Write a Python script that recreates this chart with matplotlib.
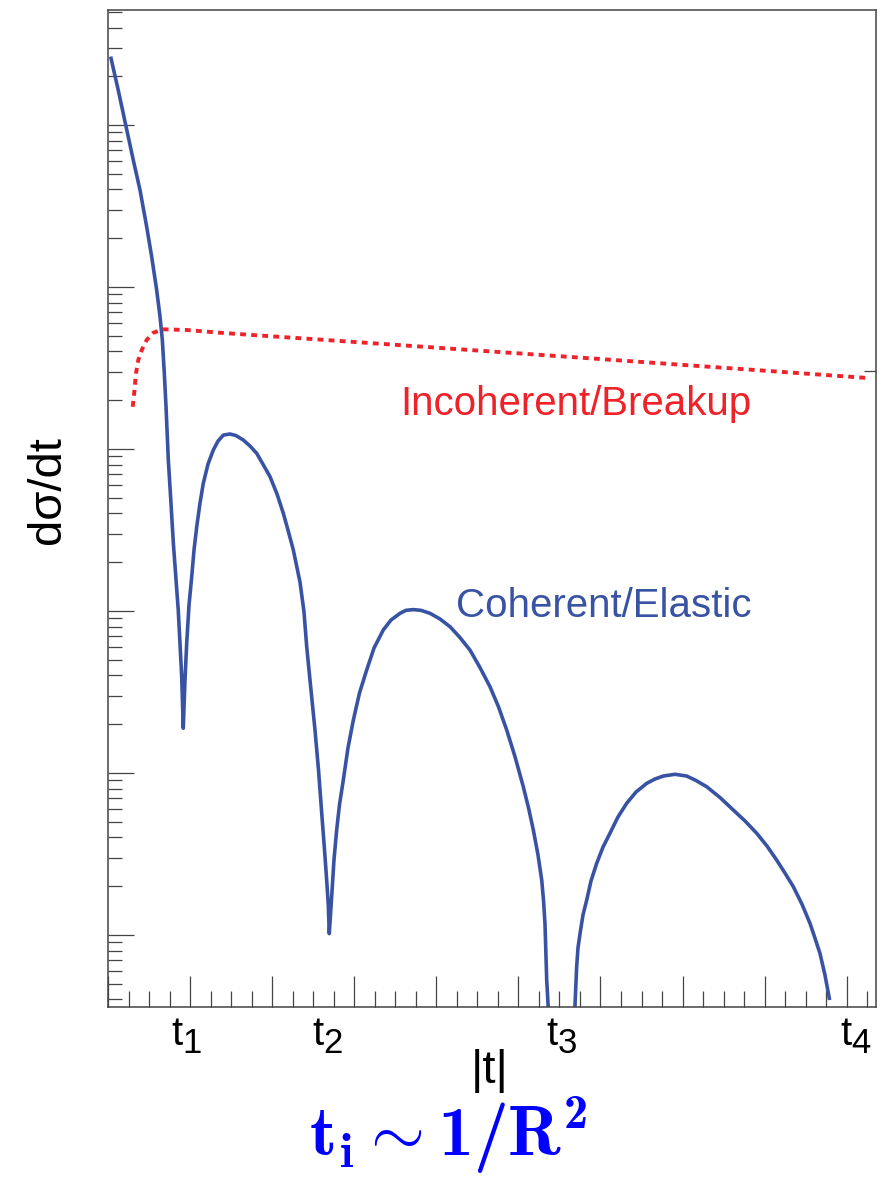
import matplotlib
matplotlib.use("Agg")
import matplotlib.pyplot as plt
from matplotlib.ticker import MultipleLocator, LogLocator, NullFormatter, NullLocator

# ---- data ----
coh_t = [0.037, 0.125, 0.216, 0.308, 0.390, 0.471, 0.532, 0.593, 0.634, 0.662,
         0.686, 0.707, 0.735, 0.765, 0.796, 0.856, 0.898, 0.917, 0.938, 0.959,
         0.987, 1.020, 1.048, 1.081, 1.121, 1.161, 1.218, 1.283, 1.340, 1.405,
         1.486, 1.559, 1.648, 1.730, 1.812, 1.888, 1.974, 2.059, 2.136, 2.193,
         2.258, 2.339, 2.388, 2.421, 2.461, 2.522, 2.565, 2.604, 2.638, 2.664,
         2.684, 2.696, 2.725, 2.753, 2.786, 2.820, 2.867, 2.924, 2.989, 3.064,
         3.152, 3.241, 3.354, 3.448, 3.558, 3.631, 3.720, 3.813, 3.923, 4.045,
         4.167, 4.288, 4.410, 4.532, 4.654, 4.758, 4.858, 4.959, 5.060, 5.124,
         5.182, 5.239, 5.284, 5.306, 5.324, 5.345, 5.364, 5.530, 5.689, 5.710,
         5.726, 5.751, 5.787, 5.832, 5.884, 5.954, 6.031, 6.116, 6.213, 6.319,
         6.433, 6.563, 6.664, 6.765, 6.908, 7.050, 7.164, 7.294, 7.456, 7.618,
         7.761, 7.903, 8.029, 8.147, 8.246, 8.349, 8.455, 8.553, 8.613, 8.674,
         8.735, 8.788]
coh_y = [2.58e5, 1.64e5, 1.00e5, 6.08e4, 3.97e4, 2.36e4, 1.54e4, 9.58e3, 6.56e3, 4.71e3,
         2.94e3, 1.82e3, 855, 484, 263, 101, 39.3, 18.9, 37.5, 63.4,
         109, 163, 238, 331, 464, 614, 806, 986, 1119, 1219,
         1238, 1211, 1137, 1044, 940, 806, 675, 528, 401, 316,
         238, 151, 98.6, 60.2, 37.5, 18.4, 10.4, 5.64, 3.35, 2.19,
         1.53, 1.02, 1.72, 2.90, 4.45, 6.35, 9.06, 14.3, 21.2, 31.2,
         43.3, 59.1, 76.4, 88.0, 96.8, 101, 102, 101, 96.8, 89.3,
         80.0, 68.6, 57.4, 44.8, 34.1, 25.6, 18.4, 12.6, 8.22, 6.08,
         4.45, 3.12, 2.19, 1.64, 1.18, 0.527, 0.354, 0.01, 0.361, 0.637,
         0.831, 1.02, 1.33, 1.64, 2.15, 2.77, 3.49, 4.25, 5.35, 6.50,
         7.63, 8.63, 9.18, 9.58, 9.82, 9.58, 8.99, 8.23, 7.06, 5.91,
         5.06, 4.25, 3.54, 2.90, 2.42, 1.99, 1.55, 1.18, 0.958, 0.771,
         0.567, 0.407]

inc_t = [0.301, 0.317, 0.341, 0.369, 0.411, 0.471, 0.552, 0.674, 0.959, 1.365,
         1.892, 2.543, 5.994, 9.259]
inc_y = [1824, 2154, 2932, 3543, 4083, 4710, 5222, 5482, 5430, 5222,
         5003, 4753, 3594, 2744]

t_label_pos = [0.96, 2.68, 5.53, 9.11]
t_label_sub = ["1", "2", "3", "4"]
right_tick = [3030]

BLUE = "#3953a4"
RED = "#ee2228"
AXC = "#444444"

plt.rcParams['font.family'] = ['Liberation Sans', 'DejaVu Sans']
plt.rcParams['mathtext.fontset'] = 'custom'
plt.rcParams['mathtext.rm'] = 'Liberation Sans'
plt.rcParams['mathtext.bf'] = 'cmb10'
plt.rcParams['mathtext.fallback'] = 'cm'

W, H = 889, 1178
PT = 0.72  # points per pixel at dpi 100
fig = plt.figure(figsize=(W / 100, H / 100), dpi=100)
L, R, T, B = 108, 876, 10, 1007
ax = fig.add_axes([L / W, 1 - B / H, (R - L) / W, (B - T) / H])

ax.plot(coh_t, coh_y, color=BLUE, lw=2.6, solid_joinstyle='round')
ax.plot(inc_t, inc_y, color=RED, lw=2.8, linestyle=(0, (1.5, 1.35)))

ax.set_yscale('log')
ax.set_xlim(0, 9.357)
ax.set_ylim(0.3594, 5.13e5)

ax.xaxis.set_major_locator(MultipleLocator(1))
ax.xaxis.set_minor_locator(MultipleLocator(0.25))
ax.yaxis.set_major_locator(LogLocator(base=10, numticks=20))
ax.yaxis.set_minor_locator(LogLocator(base=10, subs=range(2, 10), numticks=50))
for a in (ax.xaxis, ax.yaxis):
    a.set_major_formatter(NullFormatter())
    a.set_minor_formatter(NullFormatter())

ax.tick_params(axis='x', which='major', direction='in', length=22, width=0.9, color=AXC)
ax.tick_params(axis='x', which='minor', direction='in', length=11.3, width=0.9, color=AXC)
ax.tick_params(axis='y', which='major', direction='in', length=18.7, width=0.9, color=AXC)
ax.tick_params(axis='y', which='minor', direction='in', length=10, width=0.9, color=AXC)
ax.tick_params(top=False, right=False, which='both')
for s in ax.spines.values():
    s.set_color(AXC)
    s.set_linewidth(1.1)

# single tick on right axis
ax2 = ax.twinx()
ax2.set_yscale('log')
ax2.set_ylim(ax.get_ylim())
ax2.set_yticks(right_tick)
ax2.yaxis.set_minor_locator(NullLocator())
ax2.yaxis.set_major_formatter(NullFormatter())
ax2.tick_params(axis='y', direction='in', length=8.6, width=0.9, color=AXC)
for s in ax2.spines.values():
    s.set_visible(False)

# t_i labels: "t" plus a lowered index
xt = ax.get_xaxis_transform()
for xp, sub in zip(t_label_pos, t_label_sub):
    ax.annotate("t", xy=(xp, 0), xycoords=xt, xytext=(-15.5 * PT, -38 * PT),
                textcoords='offset points', ha='left', va='baseline',
                fontsize=29, color='black', annotation_clip=False)
    ax.annotate(sub, xy=(xp, 0), xycoords=xt, xytext=(-4.5 * PT, -46 * PT),
                textcoords='offset points', ha='left', va='baseline',
                fontsize=25, color='black', annotation_clip=False)

def fx(px):
    return px / W

def fy(py):
    return 1 - py / H

fig.text(fx(752), fy(415), "Incoherent/Breakup", color=RED, fontsize=29,
         ha='right', va='baseline')
fig.text(fx(752), fy(617), "Coherent/Elastic", color=BLUE, fontsize=29,
         ha='right', va='baseline')
fig.text(fx(48), fy(490), "dσ/dt", rotation=90, fontsize=34,
         ha='center', va='center', color='black')
fig.text(fx(490), fy(1083), "|t|", fontsize=34, ha='center', va='baseline', color='black')

fig.text(fx(448), fy(1156), r"$\mathbf{t_i \sim 1/R^2}$", fontsize=50,
         color='#0000ff', ha='center', va='baseline')

fig.savefig("out.png", dpi=100)
